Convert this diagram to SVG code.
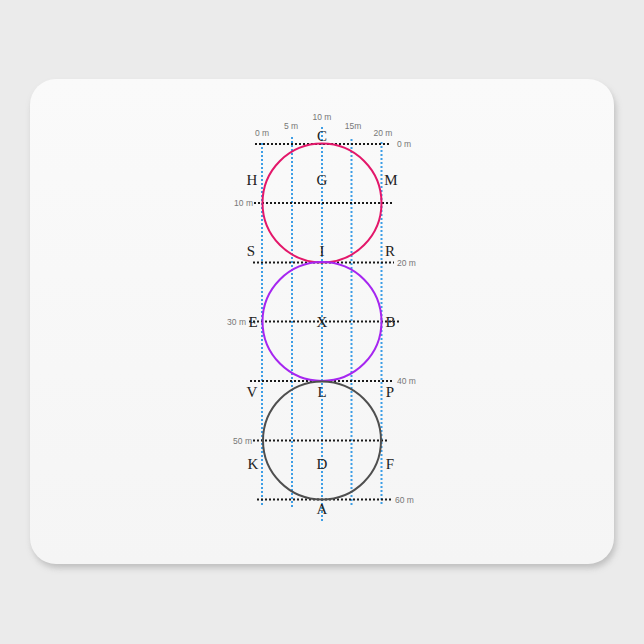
<svg xmlns="http://www.w3.org/2000/svg" width="644" height="644" viewBox="0 0 644 644">
  <defs>
    <filter id="shadow" x="-10%" y="-10%" width="120%" height="130%">
      <feGaussianBlur stdDeviation="3"/>
    </filter>
    <linearGradient id="padfill" x1="0" y1="0" x2="0" y2="1">
      <stop offset="0" stop-color="#fafafa"/>
      <stop offset="1" stop-color="#f5f5f5"/>
    </linearGradient>
  </defs>
  <style>
    .vgrid { stroke: #3d9ee6; stroke-width: 2; stroke-dasharray: 2 2; fill: none; }
    .hgrid { stroke: #1a1a1a; stroke-width: 2.2; stroke-dasharray: 2 2; fill: none; }
    .scale { font-family: "Liberation Sans", Arial, sans-serif; font-size: 8.5px; fill: #777; }
    .pt { font-family: "Liberation Serif", "Times New Roman", serif; font-size: 15px; fill: #222; text-anchor: middle; }
    .circle { fill: none; stroke-width: 2; }
  </style>

  <!-- background -->
  <rect x="0" y="0" width="644" height="644" fill="#ebebeb"/>

  <!-- mouse pad -->
  <g id="pad">
    <rect x="32" y="84" width="584" height="484" rx="26" fill="#b0b0b0" opacity="0.75" filter="url(#shadow)"/>
    <rect x="30" y="79" width="584" height="485" rx="26" fill="url(#padfill)"/>
  </g>

  <!-- connectors: grid lines -->
  <g id="connectors">
    <line class="vgrid" x1="262" y1="143" x2="262" y2="505"/>
    <line class="vgrid" x1="292" y1="137" x2="292" y2="507"/>
    <line class="vgrid" x1="322" y1="127" x2="322" y2="522"/>
    <line class="vgrid" x1="351.5" y1="139" x2="351.5" y2="506"/>
    <line class="vgrid" x1="381.5" y1="142" x2="381.5" y2="505"/>

    <line class="hgrid" x1="255" y1="144" x2="391" y2="144"/>
    <line class="hgrid" x1="254" y1="203" x2="392" y2="203"/>
    <line class="hgrid" x1="253" y1="262.5" x2="394" y2="262.5"/>
    <line class="hgrid" x1="249" y1="321.5" x2="400" y2="321.5"/>
    <line class="hgrid" x1="250" y1="381" x2="394" y2="381"/>
    <line class="hgrid" x1="253" y1="440.5" x2="388" y2="440.5"/>
    <line class="hgrid" x1="257" y1="499.5" x2="393" y2="499.5"/>
  </g>

  <!-- circles -->
  <g id="circle-top">
    <circle class="circle" cx="322" cy="203" r="59.5" stroke="#e3176a"/>
  </g>
  <g id="circle-middle">
    <circle class="circle" cx="322" cy="321.5" r="59.5" stroke="#a626f0"/>
  </g>
  <g id="circle-bottom">
    <circle class="circle" cx="322" cy="440.5" r="59" stroke="#4f4f4f"/>
  </g>

  <!-- scale labels -->
  <g id="scale-labels">
    <text class="scale" x="262" y="136" text-anchor="middle">0 m</text>
    <text class="scale" x="291" y="129" text-anchor="middle">5 m</text>
    <text class="scale" x="322" y="120" text-anchor="middle">10 m</text>
    <text class="scale" x="353" y="129" text-anchor="middle">15m</text>
    <text class="scale" x="383" y="136" text-anchor="middle">20 m</text>

    <text class="scale" x="397" y="147">0 m</text>
    <text class="scale" x="253" y="206" text-anchor="end">10 m</text>
    <text class="scale" x="397" y="265.5">20 m</text>
    <text class="scale" x="246" y="324.5" text-anchor="end">30 m</text>
    <text class="scale" x="397" y="384">40 m</text>
    <text class="scale" x="252" y="443.5" text-anchor="end">50 m</text>
    <text class="scale" x="395" y="502.5">60 m</text>
  </g>

  <!-- point labels -->
  <g id="node-C"><text class="pt" x="322" y="140.5">C</text></g>
  <g id="node-H"><text class="pt" x="252" y="185">H</text></g>
  <g id="node-G"><text class="pt" x="322" y="185">G</text></g>
  <g id="node-M"><text class="pt" x="391" y="185">M</text></g>
  <g id="node-S"><text class="pt" x="251" y="256">S</text></g>
  <g id="node-I"><text class="pt" x="322" y="256">I</text></g>
  <g id="node-R"><text class="pt" x="390" y="256">R</text></g>
  <g id="node-E"><text class="pt" x="253" y="327">E</text></g>
  <g id="node-X"><text class="pt" x="322" y="327">X</text></g>
  <g id="node-B"><text class="pt" x="390.5" y="327">B</text></g>
  <g id="node-V"><text class="pt" x="252" y="397">V</text></g>
  <g id="node-L"><text class="pt" x="322" y="397">L</text></g>
  <g id="node-P"><text class="pt" x="390" y="397">P</text></g>
  <g id="node-K"><text class="pt" x="253" y="468.5">K</text></g>
  <g id="node-D"><text class="pt" x="322" y="468.5">D</text></g>
  <g id="node-F"><text class="pt" x="390" y="468.5">F</text></g>
  <g id="node-A"><text class="pt" x="322" y="513.5">A</text></g>
</svg>
